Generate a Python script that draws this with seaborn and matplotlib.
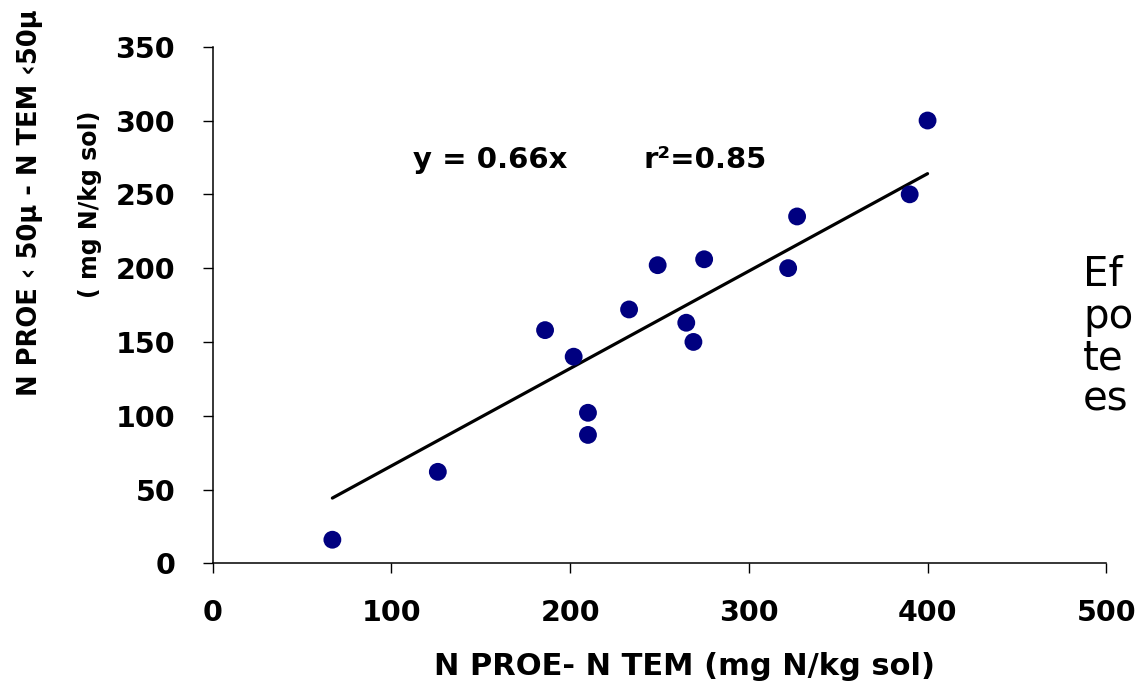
import numpy as np
import pandas as pd
import matplotlib
matplotlib.use("Agg")
import matplotlib.pyplot as plt
import seaborn as sns

# Data (mg N/kg sol)
n_diff_total = [67, 126, 186, 202, 210, 210, 233, 249, 265, 269, 275, 322, 327, 390, 400]
n_diff_fine = [16, 62, 158, 140, 102, 87, 172, 202, 163, 150, 206, 200, 235, 250, 300]
slope = 0.66
r2 = 0.85

df = pd.DataFrame({"x": n_diff_total, "y": n_diff_fine})

sns.set_style("ticks")
plt.rcParams["font.family"] = ["DejaVu Sans"]
plt.rcParams.update({"text.color": "black", "axes.labelcolor": "black",
                     "xtick.color": "black", "ytick.color": "black",
                     "axes.edgecolor": "black"})

fig = plt.figure(figsize=(11.37, 6.87), dpi=100)
ax = fig.add_axes([0.187, 0.180, 0.786, 0.752])

sns.scatterplot(data=df, x="x", y="y", ax=ax, color="#000080",
                s=165, edgecolor="none", zorder=3)

# regression line through origin, over the data range
xl = np.array([df["x"].min(), df["x"].max()])
ax.plot(xl, slope * xl, color="black", lw=2.3, zorder=2)

ax.text(112, 273, f"y = {slope:.2f}x", fontsize=21,
        fontweight="bold", va="center", ha="left")
ax.text(241, 273, f"r\u00b2={r2:.2f}", fontsize=21,
        fontweight="bold", va="center", ha="left")

ax.set_xlim(0, 500)
ax.set_ylim(0, 350)
ax.set_xticks(np.arange(0, 501, 100))
ax.set_yticks(np.arange(0, 351, 50))
ax.tick_params(axis="both", length=7, width=1, labelsize=20.5)
ax.yaxis.set_tick_params(pad=20)
ax.xaxis.set_tick_params(pad=19)
for lab in ax.get_xticklabels() + ax.get_yticklabels():
    lab.set_fontweight("bold")
sns.despine(ax=ax)
for sp in ["left", "bottom"]:
    ax.spines[sp].set_linewidth(1.1)

ax.set_xlabel("N PROE- N TEM (mg N/kg sol)", fontsize=22, fontweight="bold",
              labelpad=18)
ax.xaxis.label.set_x(0.528)
ax.set_ylabel("")

fig.text(0.026, 0.705, "N PROE \u2039 50\u00b5 - N TEM \u203950\u00b5",
         rotation=90, fontsize=18.5, fontweight="bold", ha="center", va="center")
fig.text(0.079, 0.702, "( mg N/kg sol)", rotation=90, fontsize=17,
         fontweight="bold", ha="center", va="center")

fig.text(1083 / 1137, 1 - 255 / 687, "Ef\npo\nte\nes", fontsize=29,
         ha="left", va="top", linespacing=1.05)

fig.savefig("out.png", dpi=100)
